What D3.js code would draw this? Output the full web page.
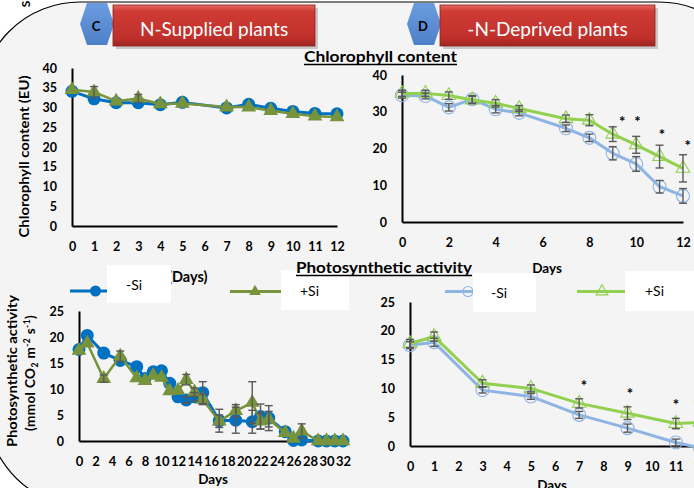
<!DOCTYPE html>
<html><head><meta charset="utf-8">
<script src="https://cdn.jsdelivr.net/npm/d3@7"></script>
<style>body{margin:0;background:#fff;} svg{display:block;}</style>
</head><body>
<svg id="c" width="694" height="488"></svg>
<script>
// ---------- DATA ----------
// Chlorophyll content, N-supplied (panel C top)
const chlDaysC = [0,1,2,3,4,5,7,8,9,10,11,12];
const chlC_minusSi = [34.1,32.2,31.2,31.2,30.7,31.3,29.9,30.8,29.8,29.0,28.5,28.4];
const chlC_plusSi  = [34.5,33.9,31.6,32.3,30.9,31.0,30.1,30.1,29.2,28.4,27.8,27.6];
const chlC_minusSi_err = [0,0,0,0,0,0,0,0,0,0,0,0];
const chlC_plusSi_err  = [0,1.4,0,1.0,0,0,0,0,0,0,0,0];
const chlC_xTicks = [0,1,2,3,4,5,6,7,8,9,10,11,12];
const chlC_yTicks = [0,5,10,15,20,25,30,35,40];

// Chlorophyll content, N-deprived (panel D top)
const chlDaysD = [0,1,2,3,4,5,7,8,9,10,11,12];
const chlD_minusSi = [34.5,34.3,31.2,33.4,30.7,29.7,25.5,22.9,18.7,15.8,9.6,7.1];
const chlD_plusSi  = [35.0,35.0,34.4,33.2,32.3,30.9,28.1,27.7,23.9,21.0,17.8,14.6];
const chlD_minusSi_err = [0.8,0.8,1.0,1.0,1.0,0.8,0.9,1.0,1.8,2.0,1.7,2.0];
const chlD_plusSi_err  = [0.8,0.8,1.0,1.0,1.0,0.8,1.0,1.5,2.0,2.3,3.1,3.7];
const chlD_xTicks = [0,2,4,6,8,10,12];
const chlD_yTicks = [0,10,20,30,40];
const chlD_starDays = [9.4,10.05,11.1,12.2];
const chlD_starVals = [28.5,28.3,24.8,21.9];

// Photosynthetic activity, N-supplied (panel C bottom)
const phoDaysC = [0,1,3,5,7,8,9,10,11,12,13,14,15,17,19,21,22,23,25,26,27,29,30,31,32];
const phoC_minusSi = [17.6,20.3,16.9,15.5,14.3,12.0,13.3,13.5,11.1,8.5,7.9,8.5,9.3,3.9,4.0,3.7,4.7,4.4,1.8,0.1,0.2,0,0,0,0];
const phoC_plusSi  = [17.4,18.8,12.0,16.3,12.1,11.6,12.6,12.2,9.6,9.7,11.8,9.4,8.0,3.8,5.8,7.4,3.8,4.2,1.6,0.5,1.9,0,0,0,0];
const phoC_minusSi_err = [0,0,0,0,0,0,0,0,0,0,0.6,0.8,2.1,2.2,2.5,2.2,2.4,2.4,0,0,0,0,0,0,0];
const phoC_plusSi_err  = [0,0,0.7,1.0,0,0,0,0,0,0,1.0,0.8,1.0,1.2,1.2,4.0,1.5,1.5,0,0,1.4,0,0,0,0];
const phoC_xTicks = [0,2,4,6,8,10,12,14,16,18,20,22,24,26,28,30,32];
const phoC_yTicks = [0,5,10,15,20,25];

// Photosynthetic activity, N-deprived (panel D bottom)
const phoDaysD = [0,1,3,5,7,9,11,12];
const phoD_minusSi = [17.5,18.0,9.7,8.6,5.4,3.1,0.6,-0.3];
const phoD_plusSi  = [17.8,19.0,10.9,10.0,7.4,5.7,3.9,4.1];
const phoD_minusSi_err = [0.6,0.7,0.5,0.5,0.6,0.7,0.6,0.5];
const phoD_plusSi_err  = [0.7,0.8,0.6,0.6,0.8,1.1,0.9,0.8];
const phoD_xTicks = [0,1,2,3,4,5,6,7,8,9,10,11,12];
const phoD_yTicks = [0,5,10,15,20,25];
const phoD_starDays = [7.2,9.1,11.0,11.85];
const phoD_starVals = [11.2,9.7,7.8,7.8];

const seriesNames = ["-Si","+Si"];
const panelLabels = ["C","D"];
const panelTitles = ["N-Supplied plants","-N-Deprived plants"];
const sectionTitles = ["Chlorophyll content","Photosynthetic activity"];

// ---------- STYLE ----------
const FONT = 'Lato, "Open Sans", "DejaVu Sans", sans-serif';
const BLUE = '#0070C0', OLIVE = '#77933C', LBLUE = '#8EB4E3', LGREEN = '#92D050', ERR = '#595959';

const svg = d3.select('#c');
const defs = svg.append('defs');
const rg = defs.append('linearGradient').attr('id','red').attr('x1',0).attr('y1',0).attr('x2',0).attr('y2',1);
rg.append('stop').attr('offset','0').attr('stop-color','#E46A62');
rg.append('stop').attr('offset','0.15').attr('stop-color','#CF3B35');
rg.append('stop').attr('offset','0.8').attr('stop-color','#C0302B');
rg.append('stop').attr('offset','1').attr('stop-color','#9E2420');
const bg = defs.append('linearGradient').attr('id','blu').attr('x1',0).attr('y1',0).attr('x2',0).attr('y2',1);
bg.append('stop').attr('offset','0').attr('stop-color','#6B9CE0');
bg.append('stop').attr('offset','1').attr('stop-color','#4E80C8');

// frame
svg.append('path')
  .attr('d','M80,2 H659 A100,100 0 0 1 759,102 V502 H70 A90,120 0 0 1 -20,382 V102 A100,100 0 0 1 80,2 Z')
  .attr('fill','#F4F4F4').attr('stroke','#000').attr('stroke-width',1.2);
svg.append('text').attr('transform','translate(30,4) rotate(-90)').attr('font-family',FONT)
  .attr('font-weight','bold').attr('font-size',12).attr('text-anchor','middle').text('S');

// banners
function banner(hx, bx, bw, label, title) {
  const hex = [[hx,24],[hx+7,3],[hx+27,3],[hx+34,24],[hx+27,45],[hx+7,45]];
  svg.append('polygon').attr('points',hex.map(p=>p.join(',')).join(' ')).attr('fill','url(#blu)');
  svg.append('text').attr('x',hx+16).attr('y',31).attr('text-anchor','middle').attr('font-family',FONT)
    .attr('font-weight','bold').attr('font-size',13).text(label);
  svg.append('rect').attr('x',bx+3).attr('y',8).attr('width',bw).attr('height',41).attr('fill','#000').attr('opacity',0.18);
  svg.append('rect').attr('x',bx).attr('y',5).attr('width',bw).attr('height',41).attr('fill','url(#red)')
    .attr('stroke','#8E1F1B').attr('stroke-width',0.8);
  svg.append('text').attr('x',bx+bw/2).attr('y',36).attr('text-anchor','middle').attr('font-family',FONT)
    .attr('font-size',19).attr('fill','#fff').text(title);
}
banner(80, 113, 202, panelLabels[0], panelTitles[0]);
banner(407, 440, 215, panelLabels[1], panelTitles[1]);

// ---------- helpers ----------
function axes(x, y, xTicks, yTicks, xfs) {
  const gx = svg.append('g').attr('transform',`translate(0,${y.range()[0]})`)
    .call(d3.axisBottom(x).tickValues(xTicks).tickSize(0).tickSizeOuter(0).tickPadding(16).tickFormat(d3.format('d')));
  const gy = svg.append('g').attr('transform',`translate(${x.range()[0]},0)`)
    .call(d3.axisLeft(y).tickValues(yTicks).tickSize(0).tickSizeOuter(0).tickPadding(15));
  [gx,gy].forEach(g=>{
    g.select('.domain').attr('stroke','#000').attr('stroke-width',2);
    g.selectAll('text').attr('font-family',FONT).attr('font-weight','bold').attr('font-size',12.5).attr('fill','#000');
  });
  if (xfs) gx.selectAll('text').attr('font-size',xfs);
}
function marker(g, cx, cy, s) {
  if (s.shape === 'circle') {
    g.append('circle').attr('cx',cx).attr('cy',cy).attr('r',s.r)
      .attr('fill', s.filled ? s.color : 'none').attr('stroke', s.color).attr('stroke-width', s.filled?0:1.1);
  } else {
    g.append('path').attr('d', d3.symbol(d3.symbolTriangle, s.size)())
      .attr('transform',`translate(${cx},${cy})`)
      .attr('fill', s.filled ? s.color : 'none').attr('stroke', s.color).attr('stroke-width', s.filled?0:1.1);
  }
}
function series(x, y, list) {
  list.forEach(s=>{
    const line = d3.line().x((d,i)=>x(s.days[i])).y(d=>y(d));
    svg.append('path').datum(s.vals).attr('d',line).attr('fill','none').attr('stroke',s.color)
      .attr('stroke-width',s.lw).attr('stroke-linejoin','round');
    const g = svg.append('g');
    s.vals.forEach((v,i)=>marker(g, x(s.days[i]), y(v), s));
  });
  list.forEach(s=>{
    const g = svg.append('g').attr('stroke',ERR).attr('stroke-width',1.4);
    s.vals.forEach((v,i)=>{
      const e = s.errs[i]; if (!e) return;
      const cx = x(s.days[i]), y1 = y(v+e), y2 = y(v-e);
      g.append('line').attr('x1',cx).attr('x2',cx).attr('y1',y1).attr('y2',y2);
      g.append('line').attr('x1',cx-4).attr('x2',cx+4).attr('y1',y1).attr('y2',y1);
      g.append('line').attr('x1',cx-4).attr('x2',cx+4).attr('y1',y2).attr('y2',y2);
    });
  });
}
function stars(x, y, days, vals) {
  days.forEach((d,i)=>{
    svg.append('text').attr('x',x(d)).attr('y',y(vals[i])).attr('dy','0.62em').attr('text-anchor','middle')
      .attr('font-family',FONT).attr('font-weight','bold').attr('font-size',15).text('*');
  });
}
function txt(x, y, s, size, bold, anchor) {
  return svg.append('text').attr('x',x).attr('y',y).attr('font-family',FONT).attr('font-size',size)
    .attr('font-weight',bold?'bold':'normal').attr('text-anchor',anchor||'start').attr('fill','#000').text(s);
}

// ---------- Panel C top ----------
{
  const x = d3.scaleLinear().domain([0,12]).range([72,337]);
  const y = d3.scaleLinear().domain([0,40]).range([226,68]);
  axes(x, y, chlC_xTicks, chlC_yTicks);
  series(x, y, [
    {days:chlDaysC, vals:chlC_minusSi, errs:chlC_minusSi_err, color:BLUE, shape:'circle', r:6.5, filled:true, lw:3},
    {days:chlDaysC, vals:chlC_plusSi, errs:chlC_plusSi_err, color:OLIVE, shape:'tri', size:95, filled:true, lw:2.5}
  ]);
  svg.append('text').attr('transform','translate(29,156.5) rotate(-90)').attr('text-anchor','middle')
    .attr('font-family',FONT).attr('font-weight','bold').attr('font-size',13.5)
    .attr('textLength',162).attr('lengthAdjust','spacingAndGlyphs').text('Chlorophyll content (EU)');
  // "(Days)" title, its "(" sits under the legend box
  const probe = txt(0, 282, '(', 14.5, true, 'start');
  const pw = probe.node().getComputedTextLength();
  probe.remove();
  txt(172 - pw, 282, '(Days)', 14.5, true, 'start');
}
// ---------- Panel D top ----------
{
  const x = d3.scaleLinear().domain([0,12]).range([402,683]);
  const y = d3.scaleLinear().domain([0,40]).range([222,75]);
  axes(x, y, chlD_xTicks, chlD_yTicks);
  series(x, y, [
    {days:chlDaysD, vals:chlD_minusSi, errs:chlD_minusSi_err, color:LBLUE, shape:'circle', r:6.5, filled:false, lw:3},
    {days:chlDaysD, vals:chlD_plusSi, errs:chlD_plusSi_err, color:LGREEN, shape:'tri', size:80, filled:false, lw:3}
  ]);
  stars(x, y, chlD_starDays, chlD_starVals);
  txt(547, 273, 'Days', 13.5, true, 'middle');
}
// ---------- Panel C bottom ----------
{
  const x = d3.scaleLinear().domain([0,32]).range([79,343]);
  const y = d3.scaleLinear().domain([0,25]).range([441,311]);
  axes(x, y, phoC_xTicks, phoC_yTicks, 13);
  series(x, y, [
    {days:phoDaysC, vals:phoC_minusSi, errs:phoC_minusSi_err, color:BLUE, shape:'circle', r:6.5, filled:true, lw:3},
    {days:phoDaysC, vals:phoC_plusSi, errs:phoC_plusSi_err, color:OLIVE, shape:'tri', size:95, filled:true, lw:2.5}
  ]);
  svg.append('text').attr('transform','translate(17,371) rotate(-90)').attr('text-anchor','middle')
    .attr('font-family',FONT).attr('font-weight','bold').attr('font-size',13.5)
    .attr('textLength',152).attr('lengthAdjust','spacingAndGlyphs').text('Photosynthetic activity');
  const t2 = svg.append('text').attr('transform','translate(35,373) rotate(-90)').attr('text-anchor','middle')
    .attr('font-family',FONT).attr('font-weight','bold').attr('font-size',13.5).attr('letter-spacing',0.4);
  t2.append('tspan').text('(mmol CO');
  t2.append('tspan').attr('font-size',8.5).attr('dy',3).text('2');
  t2.append('tspan').attr('dy',-3).text(' m');
  t2.append('tspan').attr('font-size',8.5).attr('dy',-5).text('-2');
  t2.append('tspan').attr('dy',5).text(' s');
  t2.append('tspan').attr('font-size',8.5).attr('dy',-5).text('-1');
  t2.append('tspan').attr('dy',5).text(')');
  txt(213, 484, 'Days', 13.5, true, 'middle');
}
// ---------- Panel D bottom ----------
{
  const x = d3.scaleLinear().domain([0,12]).range([410,700]);
  const y = d3.scaleLinear().domain([0,25]).range([446,302]);
  axes(x, y, phoD_xTicks, phoD_yTicks);
  series(x, y, [
    {days:phoDaysD, vals:phoD_minusSi, errs:phoD_minusSi_err, color:LBLUE, shape:'circle', r:6.5, filled:false, lw:3},
    {days:phoDaysD, vals:phoD_plusSi, errs:phoD_plusSi_err, color:LGREEN, shape:'tri', size:80, filled:false, lw:3}
  ]);
  stars(x, y, phoD_starDays, phoD_starVals);
  txt(552, 490, 'Days', 13.5, true, 'middle');
}

// ---------- Legends ----------
function legendItem(x1, x2, ly, mx, s, bx, by, bw, bh, tx, ty, label) {
  svg.append('line').attr('x1',x1).attr('x2',x2).attr('y1',ly).attr('y2',ly).attr('stroke',s.color).attr('stroke-width',3);
  marker(svg.append('g'), mx, ly, s);
  svg.append('rect').attr('x',bx).attr('y',by).attr('width',bw).attr('height',bh).attr('fill','#fff');
  txt(tx, ty, label, 14, false, 'start');
}
legendItem(70, 107, 291, 95.5, {color:BLUE, shape:'circle', r:5.5, filled:true}, 107, 265, 64, 38, 126, 290, seriesNames[0]);
legendItem(230, 281, 291.5, 255, {color:OLIVE, shape:'tri', size:60, filled:true}, 281, 270, 68, 40, 300, 296, seriesNames[1]);
legendItem(445, 473, 291.5, 468, {color:LBLUE, shape:'circle', r:5, filled:false}, 473, 273, 63, 39, 491, 298, seriesNames[0]);
legendItem(577, 625, 291.5, 602, {color:LGREEN, shape:'tri', size:60, filled:false}, 625, 271, 75, 40, 645, 296, seriesNames[1]);

// ---------- Section titles ----------
function uTitle(cx, by, s, w) {
  txt(cx, by, s, 15, true, 'middle').attr('textLength',w).attr('lengthAdjust','spacingAndGlyphs');
  svg.append('line').attr('x1',cx-w/2).attr('x2',cx+w/2).attr('y1',by+2.5).attr('y2',by+2.5).attr('stroke','#000').attr('stroke-width',1.3);
}
uTitle(380.5, 62, sectionTitles[0], 153);
uTitle(384, 273, sectionTitles[1], 176);
</script>
</body></html>
